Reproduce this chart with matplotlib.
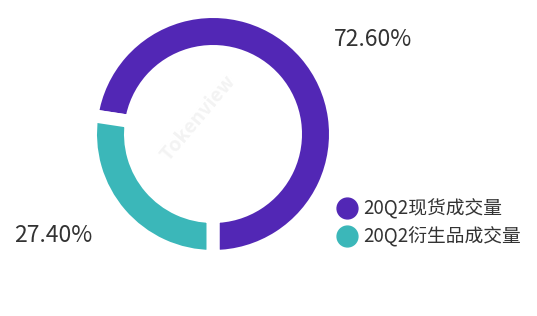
import matplotlib
matplotlib.use("Agg")
import matplotlib.pyplot as plt
from matplotlib.lines import Line2D

plt.rcParams['font.family'] = ['Noto Sans CJK SC', 'DejaVu Sans']

categories = ['20Q2现货成交量', '20Q2衍生品成交量']
values = [72.60, 27.40]
value_labels = ['72.60%', '27.40%']
colors = ['#5227B5', '#3BB7B9']

W, H = 537, 316
fig = plt.figure(figsize=(W / 100, H / 100), dpi=100)

# pie axes in pixel units, centered on the ring centre
cx, cy, half = 213, 134, 135
ax = fig.add_axes([(cx - half) / W, 1 - (cy + half) / H, 2 * half / W, 2 * half / H])

R_out, R_in, gap_px = 116, 89, 13
lw_pt = gap_px * 72 / 100
wedges, _ = ax.pie(values, colors=colors, startangle=-90, counterclock=True,
                   radius=R_out + gap_px / 2,
                   wedgeprops=dict(width=(R_out - R_in) + gap_px, edgecolor='white',
                                   linewidth=lw_pt, joinstyle='miter'))
ax.set_xlim(-half, half)
ax.set_ylim(-half, half)
ax.set_aspect('equal')
ax.axis('off')

# faint watermark (inside the ring hole)
fig.text(198 / W, 1 - 118 / H, 'Tokenview', rotation=50, fontsize=14, color='#f3f3f3',
         ha='center', va='center', fontweight='bold', zorder=-1)

label_pos = [(373, 40), (53, 235)]
for (x, y), t in zip(label_pos, value_labels):
    fig.text(x / W, 1 - y / H, t, ha='center', va='center', fontsize=16.5, color='#333333')

handles = [Line2D([], [], marker='o', ls='', color=c, markersize=15) for c in colors]
fig.legend(handles, categories, loc='center left', bbox_to_anchor=(326 / W, 1 - 223 / H),
           frameon=False, fontsize=13.5, handletextpad=0.3, labelspacing=0.42,
           borderpad=0, handlelength=1.2, labelcolor='#333333')

fig.savefig('out.png', dpi=100)
